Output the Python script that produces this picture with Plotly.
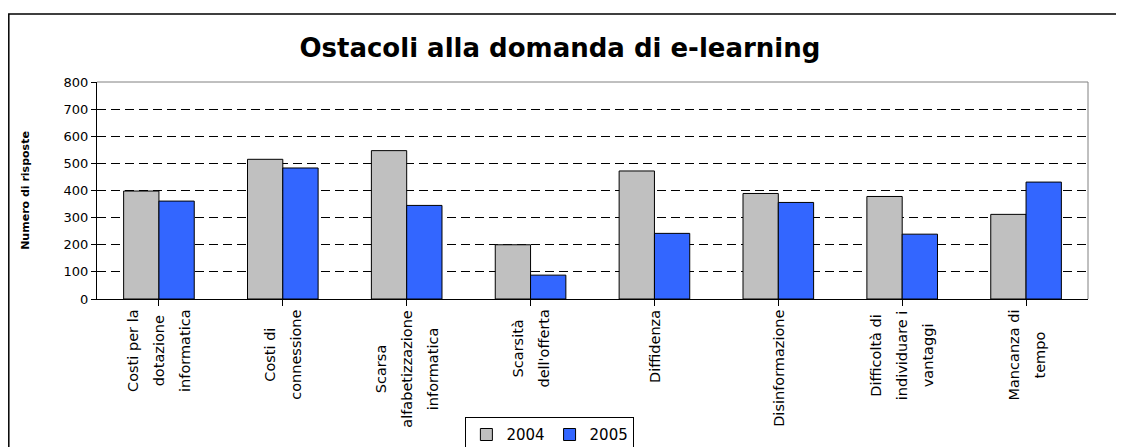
import plotly.graph_objects as go

# Dati
categorie = [
    "Costi per la<br>dotazione<br>informatica",
    "Costi di<br>connessione",
    "Scarsa<br>alfabetizzazione<br>informatica",
    "Scarsità<br>dell'offerta",
    "Diffidenza",
    "Disinformazione",
    "Difficoltà di<br>individuare i<br>vantaggi",
    "Mancanza di<br>tempo",
]
risposte_2004 = [398, 515, 547, 200, 472, 389, 378, 312]
risposte_2005 = [361, 483, 345, 88, 242, 356, 239, 431]
anni = ["2004", "2005"]

FONT = "DejaVu Sans, Arial, sans-serif"
x_idx = list(range(len(categorie)))

fig = go.Figure()
fig.add_trace(go.Bar(x=x_idx, y=risposte_2004, name=anni[0],
                     marker=dict(color="#C0C0C0", line=dict(color="#000000", width=1))))
fig.add_trace(go.Bar(x=x_idx, y=risposte_2005, name=anni[1],
                     marker=dict(color="#3366FF", line=dict(color="#000000", width=1))))

# etichette delle categorie: testo ruotato, righe centrate e ben spaziate
for i, lab in enumerate(categorie):
    righe = "<br>".join(f"<span style='font-size:14.5px'>{r}</span>" for r in lab.split("<br>"))
    fig.add_annotation(x=i, y=0, xref="x", yref="paper", text=righe,
                       textangle=-90, showarrow=False, align="center",
                       xanchor="center", yanchor="top", yshift=-9,
                       font=dict(family=FONT, size=20, color="#000000"))

# cornice esterna e bordo area del grafico
fig.add_shape(type="rect", xref="paper", yref="paper", x0=-0.089, x1=1.2, y0=-0.9, y1=1.313,
              line=dict(color="#000000", width=1.5), layer="above")
fig.add_shape(type="line", xref="paper", yref="paper", x0=0, x1=1, y0=1, y1=1,
              line=dict(color="#808080", width=1), layer="above")
fig.add_shape(type="line", xref="paper", yref="paper", x0=1, x1=1, y0=0, y1=1,
              line=dict(color="#808080", width=1), layer="above")

# la pagina ha un margine di 8px: i margini ne tengono conto
fig.update_layout(
    width=1124, height=447,
    margin=dict(l=89, r=44, t=74, b=156, autoexpand=False),
    paper_bgcolor="white", plot_bgcolor="white",
    barmode="group", bargap=0.43, bargroupgap=0,
    font=dict(family=FONT, color="#000000"),
    title=dict(text="<b>Ostacoli alla domanda di e-learning</b>",
               x=0.491, xref="container", xanchor="center",
               y=1 - 40 / 447, yanchor="middle",
               font=dict(family=FONT, size=26, color="#000000")),
    legend=dict(orientation="h", x=0.457, xanchor="center", y=-0.545, yanchor="top",
                bordercolor="#000000", borderwidth=1, bgcolor="white",
                font=dict(family=FONT, size=15), itemwidth=30,
                traceorder="normal"),
    showlegend=True,
)

fig.update_xaxes(
    range=[-0.5, len(categorie) - 0.5],
    showticklabels=False, showgrid=False, zeroline=False,
    showline=True, linecolor="#000000", linewidth=1,
    ticks="outside", tickson="boundaries", ticklen=6, tickcolor="#000000",
    tickvals=x_idx,
)
fig.update_yaxes(
    range=[0, 800], dtick=100,
    showgrid=True, gridcolor="#000000", gridwidth=1, griddash="9px,5px",
    zeroline=False, showline=True, linecolor="#000000", linewidth=1,
    ticks="outside", ticklen=5, tickcolor="#000000",
    tickfont=dict(family=FONT, size=13, color="#000000"),
    title=dict(text="<b>Numero di risposte</b>", standoff=31,
               font=dict(family=FONT, size=11, color="#000000")),
)

fig.write_html("out.html")
